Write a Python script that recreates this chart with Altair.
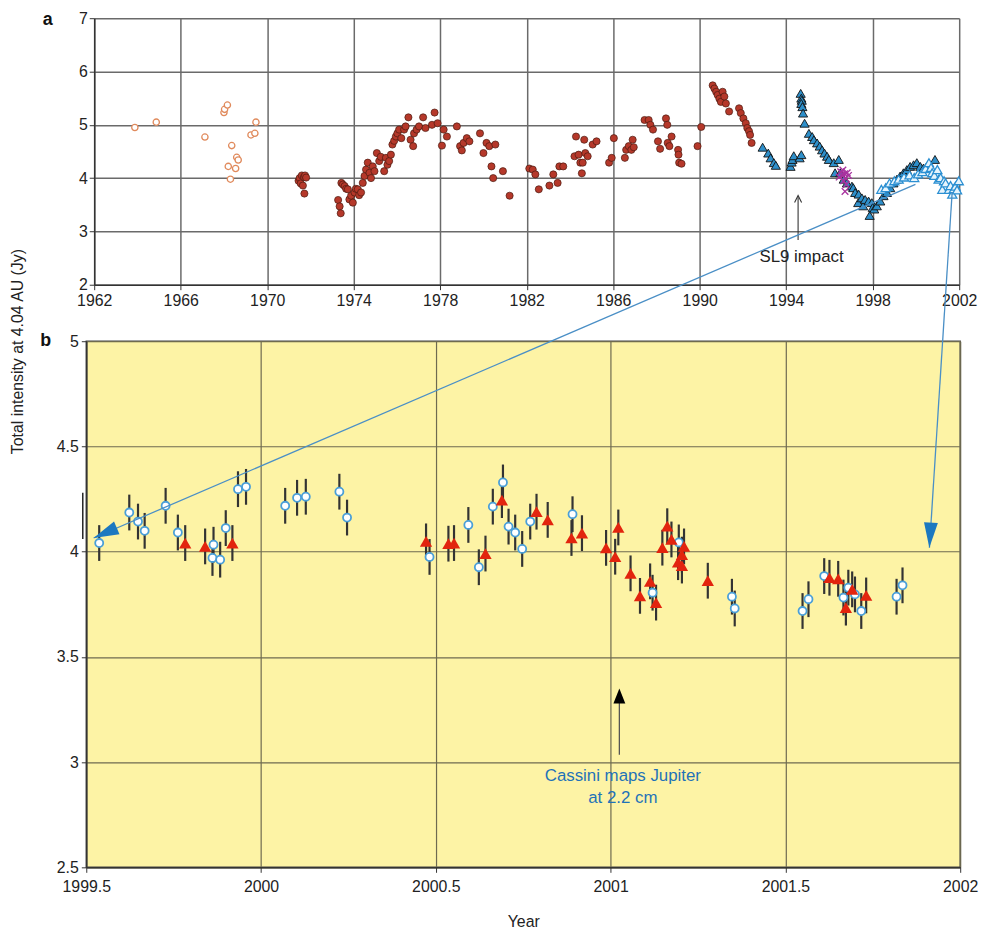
import altair as alt
import pandas as pd

FONT = "Liberation Sans"

# ---------------- Panel a : 1962-2002 record ----------------
A_XTICKS = [1962, 1966, 1970, 1974, 1978, 1982, 1986, 1990, 1994, 1998, 2002]
A_YTICKS = [2, 3, 4, 5, 6, 7]

# early measurements (open orange circles)
EARLY = [(1963.88, 4.95), (1964.87, 5.05), (1967.12, 4.77), (1968.00, 5.23), (1968.03, 5.29),
         (1968.16, 5.37), (1968.36, 4.61), (1968.20, 4.22), (1968.30, 3.98), (1968.54, 4.18),
         (1968.59, 4.39), (1968.66, 4.34), (1969.25, 4.81), (1969.43, 4.84), (1969.48, 5.05)]

# filled red circles 1971-1992
MID = [(1971.45, 3.95), (1971.50, 4.00), (1971.55, 3.90), (1971.60, 4.05), (1971.65, 3.86),
       (1971.70, 4.02), (1971.75, 4.05), (1971.80, 4.01), (1971.72, 3.71),
       (1973.28, 3.59), (1973.35, 3.47), (1973.40, 3.34), (1973.43, 3.91), (1973.50, 3.88),
       (1973.58, 3.85), (1973.65, 3.80), (1973.73, 3.79), (1973.80, 3.60), (1973.88, 3.67),
       (1973.96, 3.54), (1974.04, 3.73), (1974.10, 3.80), (1974.19, 3.79), (1974.25, 3.68),
       (1974.34, 3.73), (1974.42, 3.91), (1974.50, 4.04), (1974.57, 4.16), (1974.65, 4.29),
       (1974.73, 4.10), (1974.80, 4.00), (1974.88, 4.22), (1974.96, 4.13),
       (1975.07, 4.47), (1975.18, 4.32), (1975.25, 4.40), (1975.41, 4.13), (1975.49, 4.38),
       (1975.56, 4.25), (1975.64, 4.32), (1975.72, 4.44), (1975.79, 4.63), (1975.87, 4.70),
       (1975.95, 4.78), (1976.02, 4.84), (1976.10, 4.91), (1976.20, 4.75), (1976.33, 4.91),
       (1976.40, 4.97), (1976.53, 5.14), (1976.63, 4.72), (1976.75, 4.60), (1976.79, 4.84),
       (1976.91, 4.91), (1977.02, 4.97), (1977.21, 5.14), (1977.32, 4.94), (1977.62, 5.00),
       (1977.74, 5.23), (1977.88, 5.03),
       (1978.08, 4.61), (1978.16, 4.91), (1978.31, 4.78), (1978.77, 4.97), (1978.92, 4.60),
       (1979.00, 4.52), (1979.08, 4.66), (1979.23, 4.75), (1979.35, 4.69), (1979.84, 4.84),
       (1980.00, 4.47), (1980.14, 4.66), (1980.27, 4.60), (1980.37, 4.22), (1980.45, 4.00),
       (1980.55, 4.63), (1980.90, 4.13), (1981.21, 3.67),
       (1982.12, 4.18), (1982.28, 4.16), (1982.40, 4.07), (1982.56, 3.79), (1983.05, 3.86),
       (1983.23, 4.07), (1983.43, 3.91), (1983.51, 4.22), (1983.69, 4.22),
       (1984.21, 4.41), (1984.28, 4.78), (1984.40, 4.44), (1984.48, 4.29), (1984.55, 4.09),
       (1984.59, 4.29), (1984.66, 4.72), (1984.71, 4.47), (1984.82, 4.41), (1985.05, 4.63),
       (1985.23, 4.69), (1985.81, 4.29), (1985.93, 4.38), (1986.03, 4.75),
       (1986.54, 4.38), (1986.60, 4.53), (1986.72, 4.60), (1986.84, 4.53), (1986.90, 4.72),
       (1986.95, 4.58), (1987.45, 5.09), (1987.64, 5.09), (1987.72, 5.00), (1987.84, 4.91),
       (1988.07, 4.69), (1988.17, 4.55), (1988.44, 5.12), (1988.50, 5.00), (1988.52, 4.66),
       (1988.60, 4.60), (1988.70, 4.78), (1989.00, 4.53), (1989.02, 4.44), (1989.05, 4.29),
       (1989.16, 4.27),
       (1989.90, 4.60), (1990.07, 4.96), (1990.60, 5.74), (1990.68, 5.68), (1990.76, 5.62),
       (1990.83, 5.56), (1990.91, 5.49), (1990.98, 5.43), (1991.06, 5.62), (1991.14, 5.53),
       (1991.21, 5.40), (1991.36, 5.25), (1991.82, 5.31), (1991.90, 5.22), (1992.02, 5.12),
       (1992.13, 5.03), (1992.20, 4.94), (1992.28, 4.88), (1992.33, 4.81), (1992.40, 4.66)]

# dark-outlined blue triangles 1992-2001
LATE = [(1992.91, 4.58), (1993.17, 4.47), (1993.28, 4.38), (1993.43, 4.29), (1993.52, 4.24),
        (1994.20, 4.22), (1994.25, 4.30), (1994.29, 4.35), (1994.35, 4.42), (1994.62, 4.38),
        (1994.70, 4.44), (1994.67, 5.59), (1994.70, 5.50), (1994.72, 5.46), (1994.70, 5.40),
        (1994.75, 5.34), (1994.78, 5.22), (1994.85, 5.03), (1995.05, 4.84), (1995.20, 4.78),
        (1995.28, 4.72), (1995.43, 4.66), (1995.55, 4.60), (1995.66, 4.53), (1995.77, 4.47),
        (1995.89, 4.41), (1995.97, 4.35), (1996.20, 4.29), (1996.26, 4.10), (1996.43, 4.35),
        (1996.50, 4.10), (1996.66, 3.98), (1996.81, 3.91), (1997.04, 3.85), (1997.10, 3.82),
        (1997.19, 3.73), (1997.33, 3.54), (1997.35, 3.70), (1997.50, 3.63), (1997.56, 3.48),
        (1997.65, 3.60), (1997.81, 3.57), (1997.86, 3.30), (1997.96, 3.54), (1998.00, 3.45),
        (1998.07, 3.42), (1998.19, 3.48), (1998.35, 3.57), (1998.50, 3.67), (1998.66, 3.73),
        (1998.81, 3.82), (1998.96, 3.91), (1999.12, 3.98), (1999.27, 4.04), (1999.42, 4.10),
        (1999.58, 4.16), (1999.73, 4.22), (1999.89, 4.25), (2000.04, 4.29), (2000.20, 4.22),
        (2000.35, 4.19), (2000.50, 4.22), (2000.88, 4.35)]

# light blue open triangles 1998-2002
RECENT = [(1998.40, 3.79), (1998.60, 3.82), (1998.78, 3.91), (1999.00, 3.95), (1999.20, 3.98),
          (1999.45, 4.02), (1999.70, 4.06), (1999.92, 4.01), (2000.10, 4.08), (2000.30, 4.12),
          (2000.45, 4.18), (2000.60, 4.29), (2000.70, 4.20), (2000.75, 4.10), (2000.85, 4.05),
          (2000.99, 4.16), (2001.05, 3.98), (2001.14, 4.01), (2001.22, 3.79), (2001.30, 3.95),
          (2001.37, 3.91), (2001.53, 3.79), (2001.60, 3.86), (2001.68, 3.70), (2001.75, 3.80),
          (2001.83, 3.85), (2001.90, 3.78), (2001.98, 3.95)]

# magenta crosses 1996-1997
CROSS = [(1996.45, 4.02), (1996.52, 4.12), (1996.58, 4.05), (1996.62, 4.15), (1996.66, 3.95),
         (1996.70, 4.08), (1996.74, 4.00), (1996.78, 3.88), (1996.82, 4.10), (1996.88, 4.05),
         (1996.72, 3.75)]

# ---------------- Panel b : 1999.5-2002 ----------------
B_XTICKS = [1999.5, 2000, 2000.5, 2001, 2001.5, 2002]
B_YTICKS = [2.5, 3, 3.5, 4, 4.5, 5]
ERR = 0.085

CIRC = [(1999.537, 4.041), (1999.623, 4.186), (1999.648, 4.143), (1999.667, 4.099),
        (1999.727, 4.218), (1999.762, 4.091), (1999.861, 3.970), (1999.864, 4.033),
        (1999.883, 3.962), (1999.899, 4.112), (1999.934, 4.297), (1999.957, 4.308),
        (2000.069, 4.218), (2000.103, 4.256), (2000.128, 4.261), (2000.224, 4.285),
        (2000.246, 4.162), (2000.482, 3.975), (2000.593, 4.127), (2000.623, 3.926),
        (2000.663, 4.214), (2000.692, 4.329), (2000.708, 4.119), (2000.727, 4.091),
        (2000.747, 4.013), (2000.770, 4.143), (2000.891, 4.178), (2001.120, 3.805),
        (2001.195, 4.044), (2001.347, 3.786), (2001.355, 3.730), (2001.549, 3.718),
        (2001.566, 3.774), (2001.611, 3.884), (2001.666, 3.782), (2001.680, 3.829),
        (2001.699, 3.797), (2001.717, 3.718), (2001.818, 3.786), (2001.835, 3.840)]

TRI = [(1999.783, 4.041), (1999.840, 4.025), (1999.918, 4.041), (2000.472, 4.049),
       (2000.536, 4.038), (2000.552, 4.041), (2000.642, 3.991), (2000.689, 4.245),
       (2000.788, 4.190), (2000.820, 4.151), (2000.888, 4.065), (2000.918, 4.088),
       (2000.987, 4.018), (2001.013, 3.976), (2001.022, 4.115), (2001.057, 3.897),
       (2001.084, 3.790), (2001.113, 3.859), (2001.130, 3.758), (2001.148, 4.019),
       (2001.162, 4.121), (2001.174, 4.058), (2001.193, 3.950), (2001.204, 3.934),
       (2001.204, 3.986), (2001.210, 4.025), (2001.278, 3.862), (2001.626, 3.876),
       (2001.651, 3.871), (2001.673, 3.734), (2001.691, 3.821), (2001.731, 3.792)]

# annotations (data coordinates)
SL9_X = 1994.55
SL9_LINE = (2.84, 3.64)
SL9_HEAD = 3.61
SL9_TEXT = (1994.71, 2.52)
CASSINI_X = 2001.025
CASSINI_LINE = (3.035, 3.29)
CASSINI_HEAD = 3.314
CASSINI_TEXT = [(2001.035, 2.934, "Cassini maps Jupiter"), (2001.035, 2.830, "at 2.2 cm")]
LINKS = [(2001.872, 5.745, 1999.521, 4.065), (2001.977, 5.708, 2001.912, 4.019)]
HEADS = [(1999.554, 4.089, 246.8), (2001.914, 4.078, 183.7)]
LEFT_BAR = (1999.49, 4.06, 4.28)


def frame(pairs):
    return pd.DataFrame(pairs, columns=["yr", "v"])


LBL = dict(labelFont=FONT, labelFontSize=16, labelColor="#222", labelFlush=False,
           labelOverlap=False, tickColor="#333", domainColor="#333")

# ---- panel a encodings ----
XA = alt.Scale(domain=[1962, 2002], range=[8, 881], nice=False, zero=False)
YA = alt.Scale(domain=[2, 7], nice=False, zero=False)
AXA_X = alt.Axis(values=A_XTICKS, format="d", title=None, grid=True, gridColor="#6a6a6a",
                 gridWidth=1.5, domainWidth=1.5, tickSize=5, labelPadding=3, **LBL)
AXA_Y = alt.Axis(values=A_YTICKS, format="d", title=None, grid=True, gridColor="#6a6a6a",
                 gridWidth=1.5, domainWidth=1.5, tickSize=5, labelPadding=2, offset=-8, **LBL)


def xa(f="yr"):
    return alt.X(f"{f}:Q", scale=XA, axis=AXA_X)


def ya(f="v"):
    return alt.Y(f"{f}:Q", scale=YA, axis=AXA_Y)


early = alt.Chart(frame(EARLY)).mark_point(
    shape="circle", filled=True, fill="white", stroke="#e08a5c", strokeWidth=1.3,
    size=40, opacity=1).encode(x=xa(), y=ya())
mid = alt.Chart(frame(MID)).mark_point(
    shape="circle", filled=True, fill="#b5382a", stroke="#4a1a10", strokeWidth=0.7,
    size=52, opacity=1).encode(x=xa(), y=ya())
late = alt.Chart(frame(LATE)).mark_point(
    shape="triangle-up", filled=True, fill="#2e8fca", stroke="#111", strokeWidth=0.9,
    size=85, opacity=1).encode(x=xa(), y=ya())
cross = alt.Chart(frame(CROSS)).mark_point(
    shape="M-1,-1L1,1M-1,1L1,-1", filled=False, stroke="#a8339f", strokeWidth=1.4,
    size=45, opacity=1).encode(x=xa(), y=ya())
recent = alt.Chart(frame(RECENT)).mark_point(
    shape="triangle-up", filled=True, fill="#e6f4fc", stroke="#2b8fd2", strokeWidth=1.3,
    size=85, opacity=1).encode(x=xa(), y=ya())

sl9_line = alt.Chart(pd.DataFrame({"yr": [SL9_X], "v": [SL9_LINE[0]], "v2": [SL9_LINE[1]]})).mark_rule(
    color="#333", strokeWidth=1.1).encode(x=xa(), y=ya(), y2="v2:Q")
sl9_head = alt.Chart(pd.DataFrame({"yr": [SL9_X], "v": [SL9_HEAD]})).mark_point(
    shape="M-1,1L0,-1L1,1", filled=False, stroke="#333", strokeWidth=1.1, size=50,
    opacity=1).encode(x=xa(), y=ya())
sl9_text = alt.Chart(pd.DataFrame({"yr": [SL9_TEXT[0]], "v": [SL9_TEXT[1]], "t": ["SL9 impact"]})).mark_text(
    font=FONT, fontSize=17, color="#222", align="center", baseline="middle").encode(
    x=xa(), y=ya(), text="t:N")
label_a = alt.Chart(pd.DataFrame({"t": ["a"]})).mark_text(
    font=FONT, fontSize=18, fontWeight="bold", color="#111", align="center",
    baseline="middle").encode(x=alt.value(-39), y=alt.value(2), text="t:N")

panel_a = alt.layer(early, mid, late, cross, recent, sl9_line, sl9_head, sl9_text, label_a).properties(
    width=882, height=269, view=alt.ViewBackground(stroke="transparent", fill="white"))

# ---- panel b encodings ----
XB = alt.Scale(domain=[1999.5, 2002], nice=False, zero=False)
YB = alt.Scale(domain=[2.5, 5], nice=False, zero=False)
Y_TITLE = "Total intensity at 4.04 AU (Jy)"
AXB_X = alt.Axis(values=B_XTICKS, labelExpr="'' + datum.value", title="Year", titleFont=FONT,
                 titleFontSize=16, titleFontWeight="normal", titleColor="#222", titlePadding=20,
                 grid=True, gridColor="#6e6a50", gridWidth=1.2, domainWidth=1.5, tickSize=5,
                 labelPadding=6, **LBL)
AXB_Y = alt.Axis(values=B_YTICKS, labelExpr="'' + datum.value", title=Y_TITLE, titleFont=FONT,
                 titleFontSize=16, titleFontWeight="normal", titleColor="#222", titleX=-69,
                 titleY=10, titleAngle=270, titleAlign="center", titleBaseline="middle",
                 grid=True, gridColor="#6e6a50", gridWidth=1.2, domainWidth=1.5, tickSize=5,
                 labelPadding=3, **LBL)


def xb(f="yr"):
    return alt.X(f"{f}:Q", scale=XB, axis=AXB_X)


def yb(f="v"):
    return alt.Y(f"{f}:Q", scale=YB, axis=AXB_Y)


def errbars(pairs):
    return alt.Chart(frame(pairs)).transform_calculate(
        lo=f"datum.v - {ERR}", hi=f"datum.v + {ERR}").mark_rule(
        color="#333", strokeWidth=2.2).encode(x=xb(), y=yb("lo"), y2="hi:Q")


err_c = errbars(CIRC)
err_t = errbars(TRI)
circ = alt.Chart(frame(CIRC)).mark_point(
    shape="circle", filled=True, fill="white", stroke="#4a9fd8", strokeWidth=1.8,
    size=66, opacity=1).encode(x=xb(), y=yb())
tri = alt.Chart(frame(TRI)).mark_point(
    shape="triangle-up", filled=True, fill="#e2240e", strokeWidth=0, size=155,
    opacity=1).encode(x=xb(), y=yb())

left_bar = alt.Chart(pd.DataFrame({"yr": [LEFT_BAR[0]], "v": [LEFT_BAR[1]], "v2": [LEFT_BAR[2]]})).mark_rule(
    color="#222", strokeWidth=1.5).encode(x=xb(), y=yb(), y2="v2:Q")

cas_line = alt.Chart(pd.DataFrame({"yr": [CASSINI_X], "v": [CASSINI_LINE[0]], "v2": [CASSINI_LINE[1]]})).mark_rule(
    color="#555", strokeWidth=1.3).encode(x=xb(), y=yb(), y2="v2:Q")
cas_head = alt.Chart(pd.DataFrame({"yr": [CASSINI_X], "v": [CASSINI_HEAD]})).mark_point(
    shape="M0,-1L-0.8,1L0.8,1Z", filled=True, fill="#000", strokeWidth=0, size=225,
    opacity=1).encode(x=xb(), y=yb())
cas_text = alt.Chart(pd.DataFrame(CASSINI_TEXT, columns=["yr", "v", "t"])).mark_text(
    font=FONT, fontSize=17, color="#1f72b8", align="center", baseline="middle").encode(
    x=xb(), y=yb(), text="t:N")

links = alt.Chart(pd.DataFrame(LINKS, columns=["yr", "v", "yr2", "v2"])).mark_rule(
    color="#4a8fc6", strokeWidth=1.3).encode(x=xb(), y=yb(), x2="yr2:Q", y2="v2:Q")
heads = alt.Chart(pd.DataFrame(HEADS, columns=["yr", "v", "ang"])).mark_point(
    shape="M0,-1L-0.55,1L0.55,1Z", filled=True, fill="#1c78c0", strokeWidth=0, size=650,
    opacity=1).encode(x=xb(), y=yb(), angle=alt.Angle("ang:Q", scale=None))
label_b = alt.Chart(pd.DataFrame({"t": ["b"]})).mark_text(
    font=FONT, fontSize=18, fontWeight="bold", color="#111", align="center",
    baseline="middle").encode(x=alt.value(-41), y=alt.value(0), text="t:N")

panel_b = alt.layer(err_c, err_t, circ, tri, left_bar, cas_line, cas_head, cas_text,
                    links, heads, label_b).properties(
    width=882, height=531,
    view=alt.ViewBackground(fill="#fdf3a5", stroke="#444", strokeWidth=1.5))

chart = alt.vconcat(panel_a, panel_b, spacing=57, bounds="flush").properties(
    padding={"left": 1, "top": -3, "right": 2, "bottom": 2}, background="white")

chart.save("out.html", embed_options={"renderer": "svg", "actions": False})
